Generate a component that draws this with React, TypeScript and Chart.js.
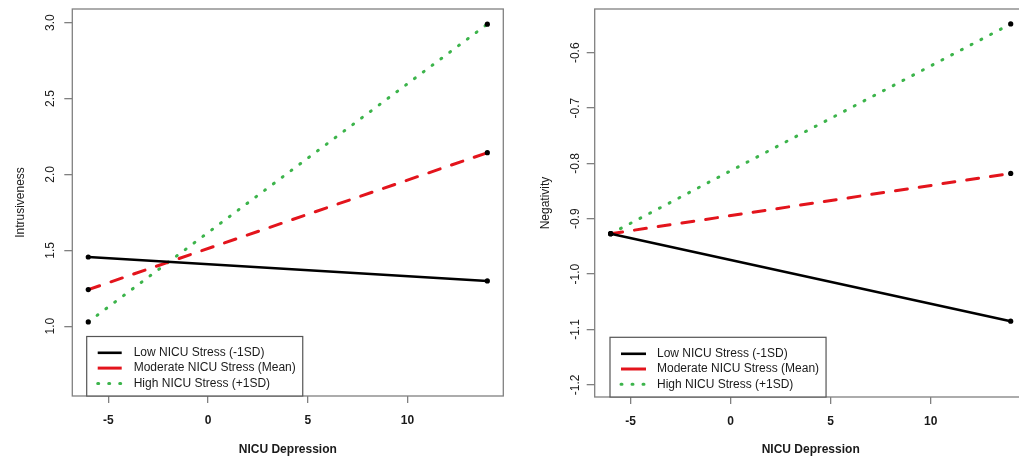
import React, { useEffect, useRef } from "react";
import { Chart, registerables } from "chart.js";

Chart.register(...registerables);

// ---------- data ----------
const xCategories = [-6, 14];
const seriesLabels = [
  "Low NICU Stress (-1SD)",
  "Moderate NICU Stress (Mean)",
  "High NICU Stress (+1SD)",
];
const intrusivenessLow = [1.456, 1.298];
const intrusivenessModerate = [1.241, 2.143];
const intrusivenessHigh = [1.028, 2.99];
const negativityLow = [-0.927, -1.085];
const negativityModerate = [-0.927, -0.818];
const negativityHigh = [-0.927, -0.548];
const xTickValues = [-5, 0, 5, 10];
const intrusivenessTicks = [1.0, 1.5, 2.0, 2.5, 3.0];
const negativityTicks = [-1.2, -1.1, -1.0, -0.9, -0.8, -0.7, -0.6];

// ---------- styles ----------
const FONT = "'Liberation Sans', Arial, Helvetica, sans-serif";
const seriesColors = ["#000000", "#e3141c", "#3cb44b"];
const seriesWidths = [2.6, 3, 3];
const seriesDashes: number[][] = [[], [12, 12], [1, 10]];
const legendDashes: number[][] = [[], [], [1, 10]];
const frameColor = "#808080";
const textColor = "#1a1a1a";

const framePlugin = {
  id: "frameBox",
  beforeDatasetsDraw(chart: any) {
    const { ctx, chartArea: a } = chart;
    ctx.save();
    ctx.strokeStyle = frameColor;
    ctx.lineWidth = 1.3;
    ctx.strokeRect(a.left, a.top, a.right - a.left, a.bottom - a.top);
    ctx.restore();
  },
};

const insetLegendPlugin = {
  id: "insetLegend",
  afterDatasetsDraw(chart: any, _args: any, opts: any) {
    const { ctx, chartArea: a } = chart;
    const ds = chart.data.datasets;
    ctx.save();
    ctx.font = `12px ${FONT}`;
    const textW = Math.max(...ds.map((d: any) => ctx.measureText(d.label).width));
    const left = a.left + opts.insetX;
    const right = left + opts.textOffset + textW + opts.padRight;
    const bottom = a.bottom;
    const top = bottom - opts.height;
    ctx.fillStyle = "#ffffff";
    ctx.fillRect(left, top, right - left, bottom - top);
    ctx.strokeStyle = "#555555";
    ctx.lineWidth = 1.2;
    ctx.strokeRect(left, top, right - left, bottom - top);
    ds.forEach((d: any, i: number) => {
      const y = top + opts.firstRow + i * opts.rowGap;
      ctx.save();
      ctx.strokeStyle = d.borderColor;
      ctx.lineWidth = d.borderWidth;
      ctx.lineCap = i === 2 ? "round" : "butt";
      ctx.setLineDash(legendDashes[i]);
      ctx.beginPath();
      ctx.moveTo(left + opts.sampleStart, y);
      ctx.lineTo(left + opts.sampleEnd, y);
      ctx.stroke();
      ctx.restore();
      ctx.fillStyle = textColor;
      ctx.textAlign = "left";
      ctx.textBaseline = "middle";
      ctx.fillText(d.label, left + opts.textOffset, y);
    });
    ctx.restore();
  },
};

function makeConfig(
  series: number[][],
  yMin: number,
  yMax: number,
  yTicks: number[],
  yTitle: string,
  geom: any
) {
  const datasets = series.map((vals, i) => ({
    label: seriesLabels[i],
    data: xCategories.map((x, j) => ({ x, y: vals[j] })),
    borderColor: seriesColors[i],
    backgroundColor: "#000000",
    borderWidth: seriesWidths[i],
    borderDash: seriesDashes[i],
    borderCapStyle: i === 0 ? "butt" : "round",
    pointRadius: 2.6,
    pointBackgroundColor: "#000000",
    pointBorderColor: "#000000",
    pointBorderWidth: 0,
    fill: false,
    tension: 0,
  }));
  return {
    type: "line",
    data: { datasets },
    plugins: [framePlugin, insetLegendPlugin],
    options: {
      responsive: false,
      animation: false,
      events: [],
      layout: { padding: geom.padding },
      plugins: {
        legend: { display: false },
        tooltip: { enabled: false },
        insetLegend: geom.legend,
      },
      scales: {
        x: {
          type: "linear",
          min: -6.8,
          max: 14.8,
          afterBuildTicks: (s: any) => {
            s.ticks = xTickValues.map((v) => ({ value: v }));
          },
          afterFit: (s: any) => {
            s.height = geom.xHeight;
            s.paddingLeft = 0;
            s.paddingRight = 0;
          },
          grid: {
            display: true,
            drawOnChartArea: false,
            drawTicks: true,
            tickLength: 7,
            color: frameColor,
            lineWidth: 1.3,
          },
          border: { display: false },
          ticks: {
            color: textColor,
            font: { family: FONT, size: 12, weight: "bold" },
            padding: 10,
            maxRotation: 0,
            autoSkip: false,
            callback: (v: any) => String(v),
          },
          title: {
            display: true,
            text: "NICU Depression",
            color: textColor,
            font: { family: FONT, size: 12, weight: "bold" },
            padding: { top: 0, bottom: 5 },
          },
        },
        y: {
          type: "linear",
          min: yMin,
          max: yMax,
          afterBuildTicks: (s: any) => {
            s.ticks = yTicks.map((v) => ({ value: v }));
          },
          afterFit: (s: any) => {
            s.width = geom.yWidth;
            s.paddingTop = 0;
            s.paddingBottom = 0;
          },
          grid: {
            display: true,
            drawOnChartArea: false,
            drawTicks: true,
            tickLength: 8,
            color: frameColor,
            lineWidth: 1.3,
          },
          border: { display: false },
          ticks: {
            color: textColor,
            font: { family: FONT, size: 12 },
            minRotation: 90,
            maxRotation: 90,
            crossAlign: "center",
            padding: geom.yTickPad,
            autoSkip: false,
            callback: (v: any) => Number(v).toFixed(1),
          },
          title: {
            display: true,
            text: yTitle,
            color: textColor,
            font: { family: FONT, size: 12 },
            padding: { top: geom.yTitlePad, bottom: 0 },
          },
        },
      },
    },
  } as any;
}

function Panel(props: { config: any; left: number; width: number }) {
  const ref = useRef<HTMLCanvasElement | null>(null);
  useEffect(() => {
    if (!ref.current) return;
    const chart = new Chart(ref.current, props.config);
    return () => chart.destroy();
  }, []);
  return (
    <canvas
      ref={ref}
      width={props.width}
      height={462}
      style={{ position: "absolute", left: props.left, top: 0, width: props.width, height: 462 }}
    />
  );
}

export default function App() {
  const leftConfig = makeConfig(
    [intrusivenessLow, intrusivenessModerate, intrusivenessHigh],
    0.54,
    3.09,
    intrusivenessTicks,
    "Intrusiveness",
    {
      padding: { left: 0, right: 6.7, top: 9, bottom: 0 },
      xHeight: 66,
      yWidth: 72.3,
      yTickPad: 5,
      yTitlePad: 13.5,
      legend: { insetX: 14.4, height: 59.5, firstRow: 16.3, rowGap: 15.3, sampleStart: 11, sampleEnd: 35, textOffset: 47, padRight: 7 },
    }
  );
  const rightConfig = makeConfig(
    [negativityLow, negativityModerate, negativityHigh],
    -1.222,
    -0.521,
    negativityTicks,
    "Negativity",
    {
      padding: { left: 0, right: 13.3, top: 9, bottom: 0 },
      xHeight: 65,
      yWidth: 84.7,
      yTickPad: 0.5,
      yTitlePad: 28.3,
      legend: { insetX: 15.3, height: 59.7, firstRow: 16.5, rowGap: 15.2, sampleStart: 11, sampleEnd: 36, textOffset: 47, padRight: 7 },
    }
  );
  return (
    <div
      style={{
        position: "fixed",
        left: 0,
        top: 0,
        width: 1019,
        height: 462,
        overflow: "hidden",
        background: "#ffffff",
      }}
    >
      <Panel config={leftConfig} left={0} width={510} />
      <Panel config={rightConfig} left={510} width={530} />
    </div>
  );
}
